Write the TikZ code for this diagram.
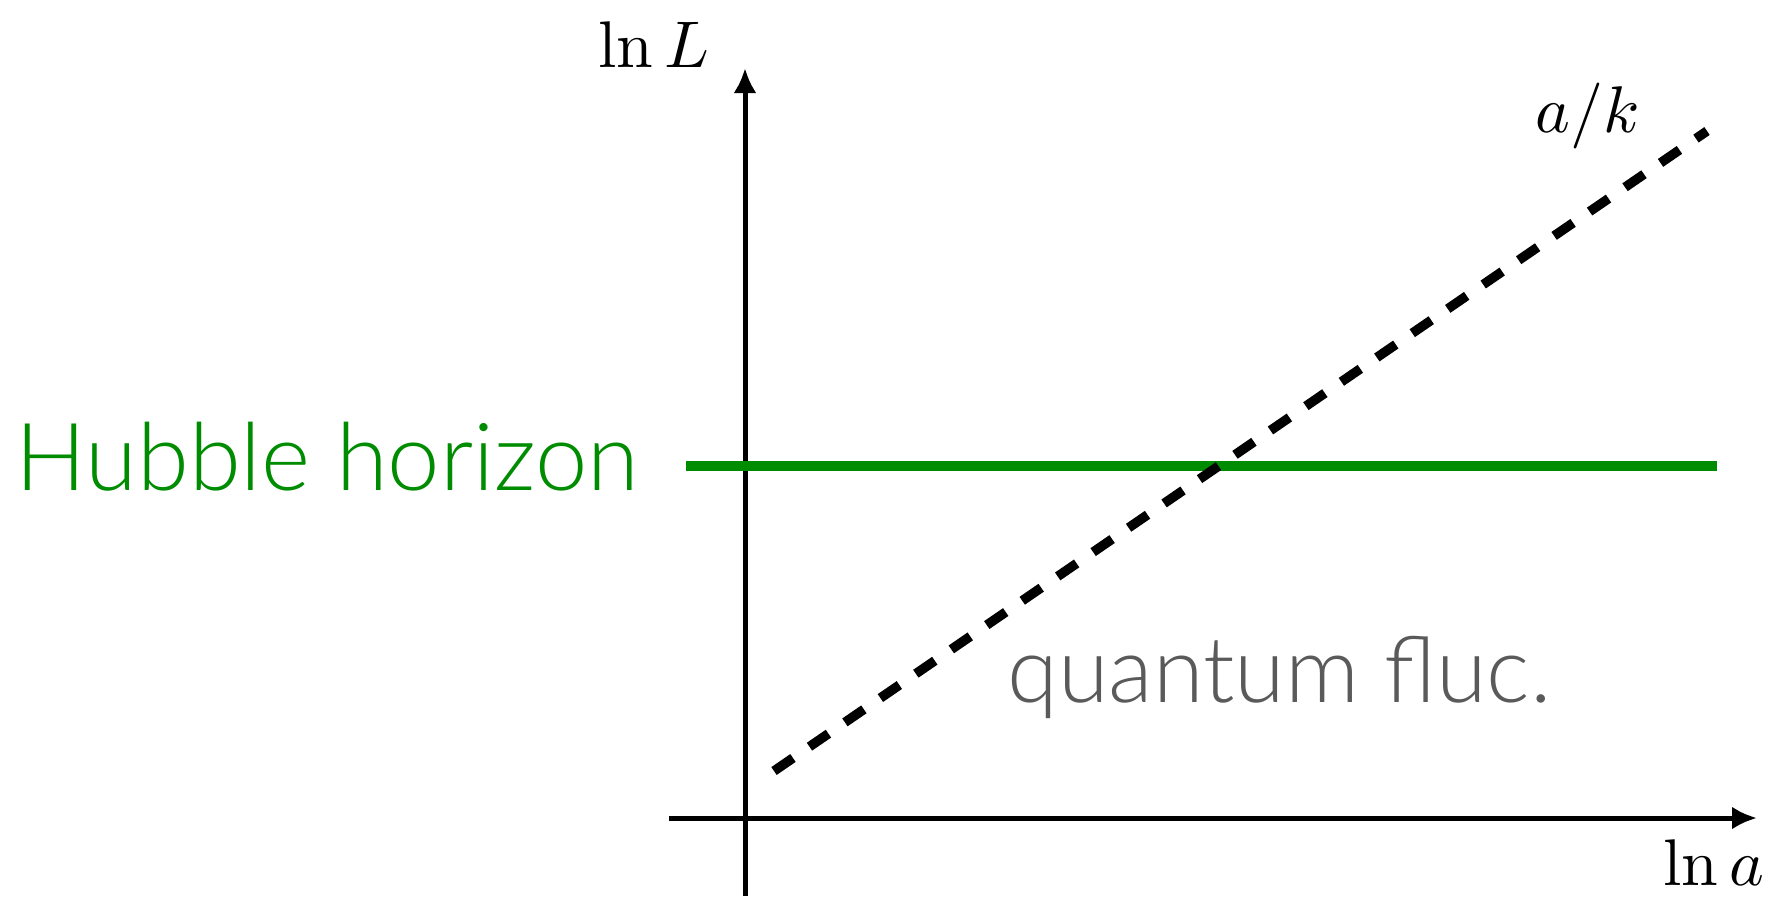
\documentclass[tikz,border=0pt]{standalone}
\usepackage{graphicx}
\usepackage{fontspec}
\usetikzlibrary{arrows.meta}
\newfontfamily\gill{Lato Light}
\definecolor{hubgreen}{RGB}{0,140,0}
\definecolor{flucgray}{RGB}{90,90,90}
\tikzset{
  axis/.style={line width=2.5pt,-{Latex[length=12.5pt,width=11.5pt]}},
  mathlabel/.style={inner sep=0pt,anchor=base west},
  sanslabel/.style={inner sep=0pt,anchor=base west,font=\gill\fontsize{47}{54}\selectfont},
  fluclabel/.style={inner sep=0pt,anchor=base west,font=\gill\fontsize{46}{53}\selectfont},
}
\newcommand{\bigmath}[1]{\scalebox{3.3}{$#1$}}
\begin{document}
\begin{tikzpicture}[x=0.5pt,y=-0.5pt]
\useasboundingbox (0,0) rectangle (1771,896);
% axes
\coordinate (ybot) at (745,896);
\coordinate (ytop) at (745,68);
\coordinate (xleft) at (669,818);
\coordinate (xright) at (1757,818);
\draw[axis] (ybot) -- (ytop);
\draw[axis] (xleft) -- (xright);
% Hubble horizon line
\coordinate (hl) at (686,466);
\coordinate (hr) at (1717,466);
\draw[hubgreen,line width=5pt] (hl) -- (hr);
% dashed a/k line
\coordinate (ds) at (774,771);
\coordinate (de) at (1707,131);
\draw[line width=4.75pt,dash pattern=on 11.5pt off 10pt] (ds) -- (de);
% labels
\node[mathlabel] (lnL) at (598,67) {\bigmath{\ln L}};
\node[mathlabel] (ak) at (1535,132) {\bigmath{a/k}};
\node[mathlabel] (lna) at (1663,885) {\bigmath{\ln a}};
\node[sanslabel,text=hubgreen] (hub) at (15,490) {Hubble horizon};
\node[fluclabel,text=flucgray] (qf) at (1007,702) {quantum fluc.};
\end{tikzpicture}
\end{document}
